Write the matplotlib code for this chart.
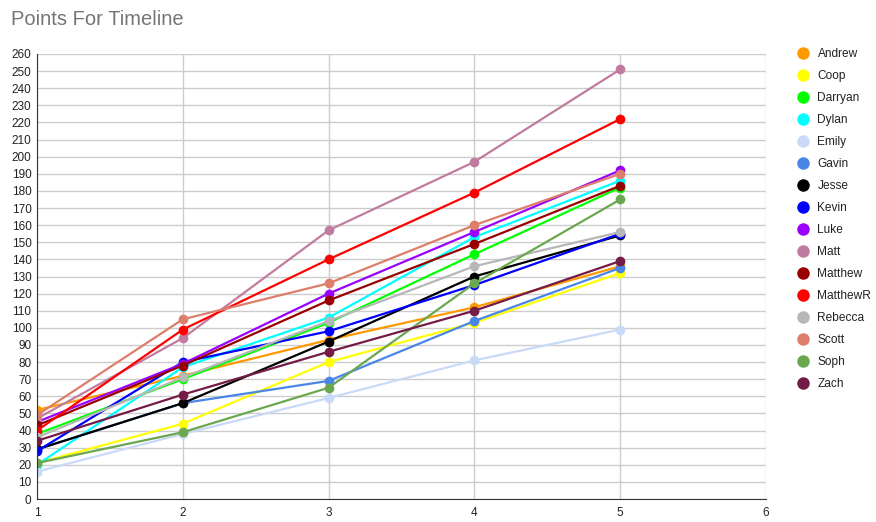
import matplotlib
matplotlib.use("Agg")
import matplotlib.pyplot as plt
from matplotlib.lines import Line2D

plt.rcParams['font.family'] = ['Arial', 'Liberation Sans', 'DejaVu Sans']

weeks = [1, 2, 3, 4, 5]
names = ["Andrew", "Coop", "Darryan", "Dylan", "Emily", "Gavin", "Jesse", "Kevin",
         "Luke", "Matt", "Matthew", "MatthewR", "Rebecca", "Scott", "Soph", "Zach"]
colors = ["#FF9900", "#FFFF00", "#00FF00", "#00FFFF", "#C9DAF8", "#4A86E8", "#000000", "#0000FF",
          "#9900FF", "#C27BA0", "#990000", "#FF0000", "#B7B7B7", "#DD7E6B", "#6AA84F", "#741B47"]

andrew = [52, 72, 93, 112, 136]
coop = [21, 44, 80, 103, 132]
darryan = [38, 70, 103, 143, 182]
dylan = [20, 77, 106, 153, 186]
emily = [16, 38, 59, 81, 99]
gavin = [29, 56, 69, 104, 135]
jesse = [29, 56, 92, 130, 154]
kevin = [28, 80, 98, 125, 155]
luke = [45, 79, 120, 156, 192]
matt = [47, 94, 157, 197, 251]
matthew = [43, 78, 116, 149, 183]
matthewr = [40, 99, 140, 179, 222]
rebecca = [36, 71, 104, 136, 156]
scott = [49, 105, 126, 160, 190]
soph = [21, 39, 65, 126, 175]
zach = [34, 61, 86, 110, 139]

series = [andrew, coop, darryan, dylan, emily, gavin, jesse, kevin,
          luke, matt, matthew, matthewr, rebecca, scott, soph, zach]

yticks = list(range(0, 261, 10))
xticks = [1, 2, 3, 4, 5, 6]

fig = plt.figure(figsize=(8.76, 5.22), dpi=100)
ax = fig.add_axes([37/876, 23/522, (766-37)/876, (499-54)/522])

for name, col, vals in zip(names, colors, series):
    ax.plot(weeks, vals, color=col, lw=1.6, marker='o', markersize=7,
            markeredgewidth=0, label=name, solid_capstyle='round')

ax.set_xlim(1, 6)
ax.set_ylim(0, 260)
ax.set_yticks(yticks)
ax.set_xticks(xticks)
ax.set_xticklabels([str(x) for x in xticks])
ax.grid(True, color='#cccccc', lw=1)
ax.set_axisbelow(True)
for s in ['top', 'right']:
    ax.spines[s].set_visible(False)
ax.spines['left'].set_color('#333333')
ax.spines['bottom'].set_color('#333333')
ax.tick_params(axis='both', length=0, labelsize=8.5, colors='#222222')
ax.tick_params(axis='y', pad=4)
ax.tick_params(axis='x', pad=6)

fig.text(11/876, 1 - 25/522, "Points For Timeline", fontsize=14.5, color='#757575',
         ha='left', va='baseline')

handles = [Line2D([], [], color=c, marker='o', linestyle='none', markersize=9,
                  markeredgewidth=0) for c in colors]
fig.legend(handles, names, loc='upper left', bbox_to_anchor=(796/876, 1 - 48/522),
           frameon=False, fontsize=8.6, labelspacing=0.84, handletextpad=0.6,
           handlelength=1.2, labelcolor='#222222', borderaxespad=0, borderpad=0)

fig.savefig("out.png", dpi=100)
